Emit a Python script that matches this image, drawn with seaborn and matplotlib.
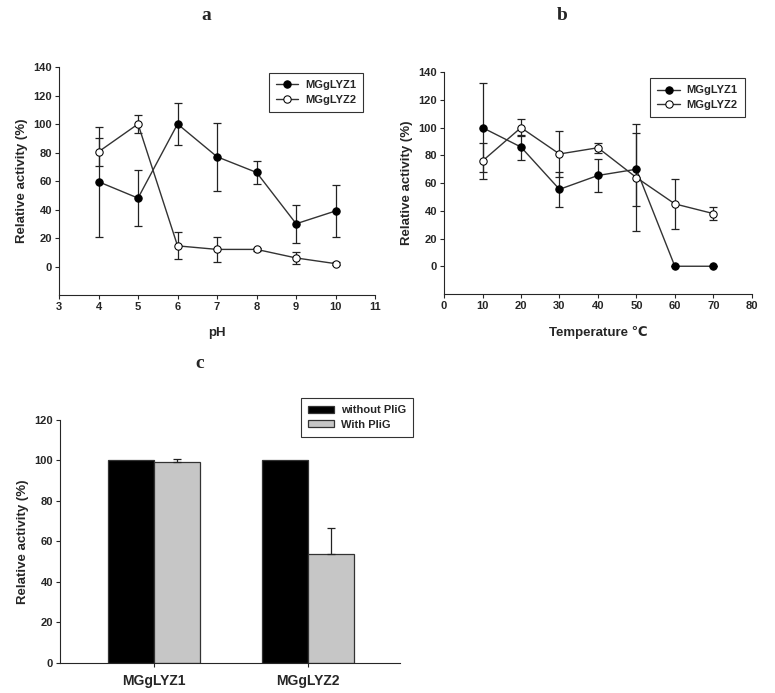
import numpy as np
import pandas as pd
import seaborn as sns
import matplotlib.pyplot as plt

# panel a: pH
ph = [4, 5, 6, 7, 8, 9, 10]
ph_lyz1 = [59.5, 48, 100, 77, 66, 30, 39]
ph_lyz1_err = [38.5, 19.5, 14.5, 24, 8, 13.5, 18]
ph_lyz2 = [80.5, 100, 14.5, 12, 12, 6, 2]
ph_lyz2_err = [10, 6, 9.5, 9, 1, 4, 1]

# panel b: temperature
temp = [10, 20, 30, 40, 50, 60, 70]
t_lyz1 = [100, 86, 55.5, 65.5, 70, 0, 0]
t_lyz1_err = [32, 9, 12.5, 12, 26.5, 0, 0]
t_lyz2 = [76, 100, 81, 85.5, 64, 45, 38]
t_lyz2_err = [13, 6, 16.5, 3.5, 38.5, 18, 4.5]

# panel c: inhibitor
enzymes = ["MGgLYZ1", "MGgLYZ2"]
without_plig = [100, 100]
with_plig = [99, 54]
with_plig_err = [1.5, 12.5]

sns.set_style("ticks")
plt.rcParams['font.family'] = ['Liberation Sans', 'DejaVu Sans']
plt.rcParams['font.weight'] = 'bold'
plt.rcParams['axes.labelweight'] = 'bold'

fig = plt.figure(figsize=(7.75, 6.93), dpi=100)
ax_a = fig.add_axes([0.0761, 0.5743, 0.408, 0.329])
ax_b = fig.add_axes([0.573, 0.5758, 0.397, 0.320])
ax_c = fig.add_axes([0.0774, 0.0433, 0.439, 0.351])

leg_kw = dict(loc='upper right', fontsize=8, fancybox=False,
              edgecolor='black', borderaxespad=0, borderpad=0.65,
              labelspacing=0.4, handletextpad=0.6)


def line_panel(ax, x, y1, e1, y2, e2):
    for y, e in [(y1, e1), (y2, e2)]:
        ax.errorbar(x, y, yerr=e, fmt='none', ecolor='#222222',
                    elinewidth=0.9, capsize=2.7, capthick=0.9, zorder=2)
    sns.lineplot(x=x, y=y1, ax=ax, color='#333333', lw=1.0, marker='o',
                 markersize=5.3, markerfacecolor='black',
                 markeredgecolor='black', label='MGgLYZ1', zorder=3)
    sns.lineplot(x=x, y=y2, ax=ax, color='#333333', lw=1.0, marker='o',
                 markersize=5.3, markerfacecolor='white',
                 markeredgecolor='black', label='MGgLYZ2', zorder=3)
    ax.set_ylim(-20, 140)
    ax.set_yticks(range(0, 141, 20))
    ax.spines['left'].set_bounds(-20, 140)
    sns.despine(ax=ax)
    ax.tick_params(labelsize=8, length=3, width=0.8, pad=2)
    ax.set_ylabel("Relative activity (%)", fontsize=9.5, labelpad=4)


line_panel(ax_a, ph, ph_lyz1, ph_lyz1_err, ph_lyz2, ph_lyz2_err)
ax_a.set_xlim(3, 11)
ax_a.set_xticks(range(3, 12))
ax_a.set_xlabel("pH", fontsize=9.5, labelpad=11)
leg = ax_a.legend(bbox_to_anchor=(0.962, 0.974), handlelength=2.0, **leg_kw)
leg.get_frame().set_linewidth(0.8)

line_panel(ax_b, temp, t_lyz1, t_lyz1_err, t_lyz2, t_lyz2_err)
ax_b.set_xlim(0, 80)
ax_b.set_xticks(range(0, 81, 10))
ax_b.set_xlabel("Temperature ℃", fontsize=9.5, labelpad=11)
leg = ax_b.legend(bbox_to_anchor=(0.977, 0.973), handlelength=2.0, **leg_kw)
leg.get_frame().set_linewidth(0.8)

# panel c bars
df = pd.DataFrame({
    "enzyme": enzymes * 2,
    "activity": without_plig + with_plig,
    "group": ["without PliG"] * 2 + ["With PliG"] * 2,
})
sns.barplot(data=df, x="enzyme", y="activity", hue="group", ax=ax_c,
            palette=["black", "#c6c6c6"], width=0.6, gap=0,
            edgecolor='#333333', linewidth=0.9, errorbar=None)
for bar, err in zip(ax_c.containers[1], with_plig_err):
    cx = bar.get_x() + bar.get_width() / 2
    ax_c.errorbar(cx, bar.get_height(), yerr=[[0], [err]], fmt='none',
                  ecolor='#222222', elinewidth=0.9, capsize=2.7,
                  capthick=0.9, zorder=1)
ax_c.set_xlim(-0.61, 1.6)
ax_c.set_ylim(0, 120)
ax_c.set_yticks(range(0, 121, 20))
sns.despine(ax=ax_c)
ax_c.tick_params(axis='y', labelsize=8, length=3, width=0.8, pad=2)
ax_c.tick_params(axis='x', labelsize=10, length=3, width=0.8, pad=5)
ax_c.set_xlabel("")
ax_c.set_ylabel("Relative activity (%)", fontsize=9.5, labelpad=4)
leg = ax_c.legend(bbox_to_anchor=(1.038, 1.09), handlelength=2.3,
                  handleheight=0.6, title=None, **leg_kw)
leg.get_frame().set_linewidth(0.8)

# panel letters
for lx, ly, s in [(206, 16, 'a'), (562, 16, 'b'), (200, 363, 'c')]:
    fig.text(lx / 775, 1 - ly / 693, s, family='Liberation Serif',
             weight='bold', fontsize=14, ha='center', va='center')

fig.savefig("out.png", dpi=100, facecolor='white')
